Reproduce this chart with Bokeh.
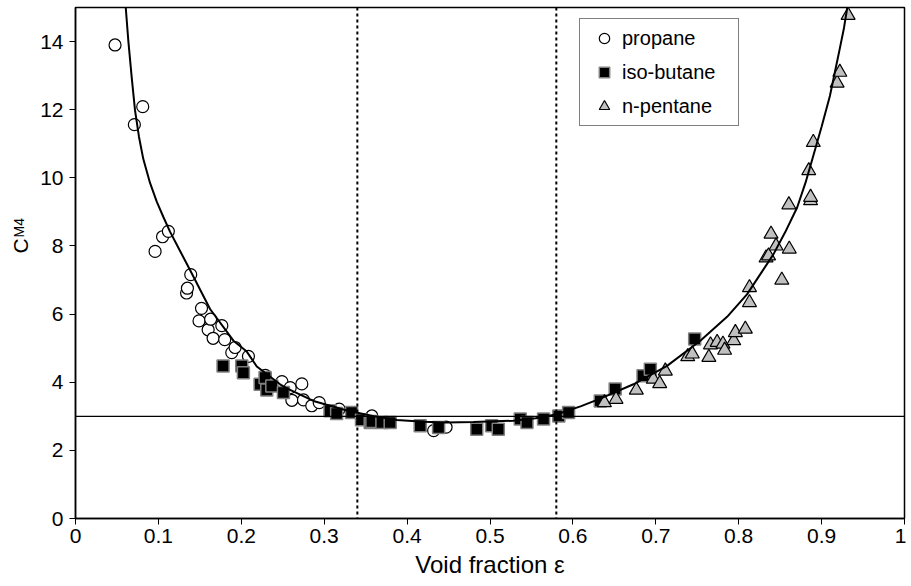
import math
from bokeh.plotting import figure
from bokeh.models import FixedTicker, Span, Title, Legend, LegendItem
from bokeh.embed import file_html
from bokeh.resources import INLINE

# ---- data ----
propane_eps = [0.0477, 0.071, 0.0811, 0.096, 0.105, 0.112, 0.134, 0.135, 0.139, 0.149,
               0.152, 0.160, 0.163, 0.166, 0.1765, 0.180, 0.1885, 0.1925, 0.2086, 0.229,
               0.249, 0.259, 0.261, 0.273, 0.275, 0.285, 0.294, 0.318, 0.3575, 0.432, 0.447]
propane_c = [13.9, 11.56, 12.09, 7.84, 8.27, 8.43, 6.62, 6.76, 7.16, 5.80,
             6.17, 5.54, 5.85, 5.29, 5.66, 5.25, 4.87, 5.02, 4.76, 4.20,
             4.02, 3.84, 3.47, 3.95, 3.48, 3.31, 3.40, 3.21, 3.01, 2.58, 2.68]

butane_eps = [0.178, 0.2006, 0.2025, 0.2227, 0.2287, 0.2307, 0.2368, 0.2508, 0.307, 0.315,
              0.333, 0.345, 0.3555, 0.3575, 0.3696, 0.3796, 0.4158, 0.438, 0.484, 0.502,
              0.510, 0.5365, 0.5446, 0.5646, 0.583, 0.5948, 0.633, 0.651, 0.6846, 0.6934,
              0.7469]
butane_c = [4.48, 4.48, 4.28, 3.94, 4.14, 3.77, 3.89, 3.70, 3.16, 3.08,
            3.11, 2.90, 2.82, 2.85, 2.82, 2.82, 2.72, 2.67, 2.62, 2.72,
            2.62, 2.92, 2.82, 2.92, 3.01, 3.11, 3.45, 3.80, 4.19, 4.38,
            5.27]

pentane_eps = [0.638, 0.652, 0.6765, 0.697, 0.7047, 0.7115, 0.7385, 0.744, 0.764, 0.766,
               0.774, 0.781, 0.783, 0.794, 0.796, 0.808, 0.813, 0.813, 0.833, 0.836,
               0.839, 0.845, 0.852, 0.861, 0.8605, 0.8867, 0.8867, 0.8845, 0.890, 0.9187,
               0.922, 0.932]
pentane_c = [3.40, 3.50, 3.77, 4.09, 3.96, 4.33, 4.75, 4.83, 4.73, 5.10,
             5.17, 5.12, 4.94, 5.22, 5.46, 5.56, 6.34, 6.78, 7.65, 7.71,
             8.35, 8.00, 7.00, 7.91, 9.21, 9.33, 9.43, 10.21, 11.04, 12.78,
             13.10, 14.77]

curve_eps = [0.0606, 0.0637, 0.0678, 0.0718, 0.0766, 0.0818, 0.0899, 0.098, 0.106, 0.114,
             0.126, 0.138, 0.1623, 0.1905, 0.2066, 0.2187, 0.2468, 0.255, 0.287, 0.3273,
             0.36, 0.3877, 0.42, 0.447, 0.48, 0.528, 0.555, 0.581, 0.61, 0.633,
             0.673, 0.7136, 0.7537, 0.786, 0.810, 0.842, 0.856, 0.8705, 0.8805, 0.890,
             0.900, 0.910, 0.916, 0.922, 0.927, 0.931]
curve_c = [15.0, 14.03, 12.95, 11.98, 11.2, 10.55, 9.85, 9.3, 8.85, 8.42,
           7.86, 7.3, 6.15, 5.22, 4.9, 4.46, 3.94, 3.82, 3.45, 3.17,
           3.0, 2.89, 2.84, 2.82, 2.83, 2.87, 2.94, 3.06, 3.3, 3.52,
           3.94, 4.48, 5.22, 5.92, 6.58, 7.76, 8.4, 9.13, 9.85, 10.65,
           11.5, 12.4, 13.1, 13.8, 14.4, 15.0]

x_ticks = [0, 0.1, 0.2, 0.3, 0.4, 0.5, 0.6, 0.7, 0.8, 0.9, 1.0]
x_tick_labels = ["0", "0.1", "0.2", "0.3", "0.4", "0.5", "0.6", "0.7", "0.8", "0.9", "1"]
y_ticks = [0, 2, 4, 6, 8, 10, 12, 14]
h_ref = 3.0
v_refs = [0.34, 0.58]

FONT = "Liberation Sans"

p = figure(width=906, height=586, x_range=(0, 1), y_range=(0, 15),
           output_backend="svg", toolbar_location=None,
           min_border_left=75, min_border_right=2, min_border_top=7, min_border_bottom=68)

p.xgrid.visible = False
p.ygrid.visible = False
p.outline_line_color = "black"
p.outline_line_width = 1.5
p.background_fill_color = "white"
p.border_fill_color = "white"

p.xaxis.ticker = FixedTicker(ticks=x_ticks)
p.xaxis.major_label_overrides = {t: l for t, l in zip(x_ticks, x_tick_labels)}
p.yaxis.ticker = FixedTicker(ticks=y_ticks)
for ax in (p.xaxis, p.yaxis):
    ax.axis_line_color = "black"
    ax.axis_line_width = 1.5
    ax.major_tick_line_color = "black"
    ax.major_tick_line_width = 1
    ax.major_tick_out = 6
    ax.major_tick_in = 0
    ax.minor_tick_line_color = None
    ax.major_label_text_font = FONT
    ax.major_label_text_font_size = "21px"
    ax.major_label_text_color = "black"
p.yaxis.major_label_standoff = 6
p.xaxis.major_label_standoff = 4
p.xaxis.axis_label = "Void fraction \u03b5"
p.xaxis.axis_label_text_font = FONT
p.xaxis.axis_label_text_font_size = "24px"
p.xaxis.axis_label_text_font_style = "normal"
p.xaxis.axis_label_text_color = "black"
p.xaxis.axis_label_standoff = 5
p.yaxis.axis_label = None

# reference lines
p.add_layout(Span(location=h_ref, dimension="width", line_color="black", line_width=1.2))
for v in v_refs:
    p.add_layout(Span(location=v, dimension="height", line_color="black",
                      line_width=2, line_dash="3 3"))

r_prop = p.scatter(propane_eps, propane_c, marker="circle", size=12,
                   fill_color="white", line_color="black", line_width=1.2)
r_but = p.scatter(butane_eps, butane_c, marker="square", size=12,
                  fill_color="black", line_color="#808080", line_width=1.5)
r_pent = p.scatter(pentane_eps, pentane_c, marker="triangle", size=14,
                   fill_color="#c0c0c0", line_color="black", line_width=1.2)
p.line(curve_eps, curve_c, line_color="black", line_width=2)

legend = Legend(items=[LegendItem(label="propane", renderers=[r_prop]),
                       LegendItem(label="iso-butane", renderers=[r_but]),
                       LegendItem(label="n-pentane", renderers=[r_pent])],
                location=(504, 392))
legend.label_text_font = FONT
legend.label_text_font_size = "20px"
legend.label_text_color = "black"
legend.label_standoff = 0
legend.glyph_width = 36
legend.glyph_height = 26
legend.label_height = 24
legend.label_width = 110
legend.spacing = 8
legend.padding = 6
legend.margin = 0
legend.border_line_color = "black"
legend.border_line_width = 1
legend.background_fill_alpha = 1
p.add_layout(legend, "center")

# y-axis title C_M4: subscript "M4" title next to the axis, "C" title pulled beside it
t_sub = Title(text="M4", align="left", offset=281, standoff=17, vertical_align="top",
              text_font=FONT, text_font_size="14px", text_font_style="normal",
              text_color="black")
t_main = Title(text="C", align="left", offset=265, standoff=-58, vertical_align="bottom",
               text_font=FONT, text_font_size="21px", text_font_style="normal",
               text_color="black")
p.add_layout(t_sub, "left")
p.add_layout(t_main, "left")

open("out.html", "w").write(file_html(p, INLINE))
